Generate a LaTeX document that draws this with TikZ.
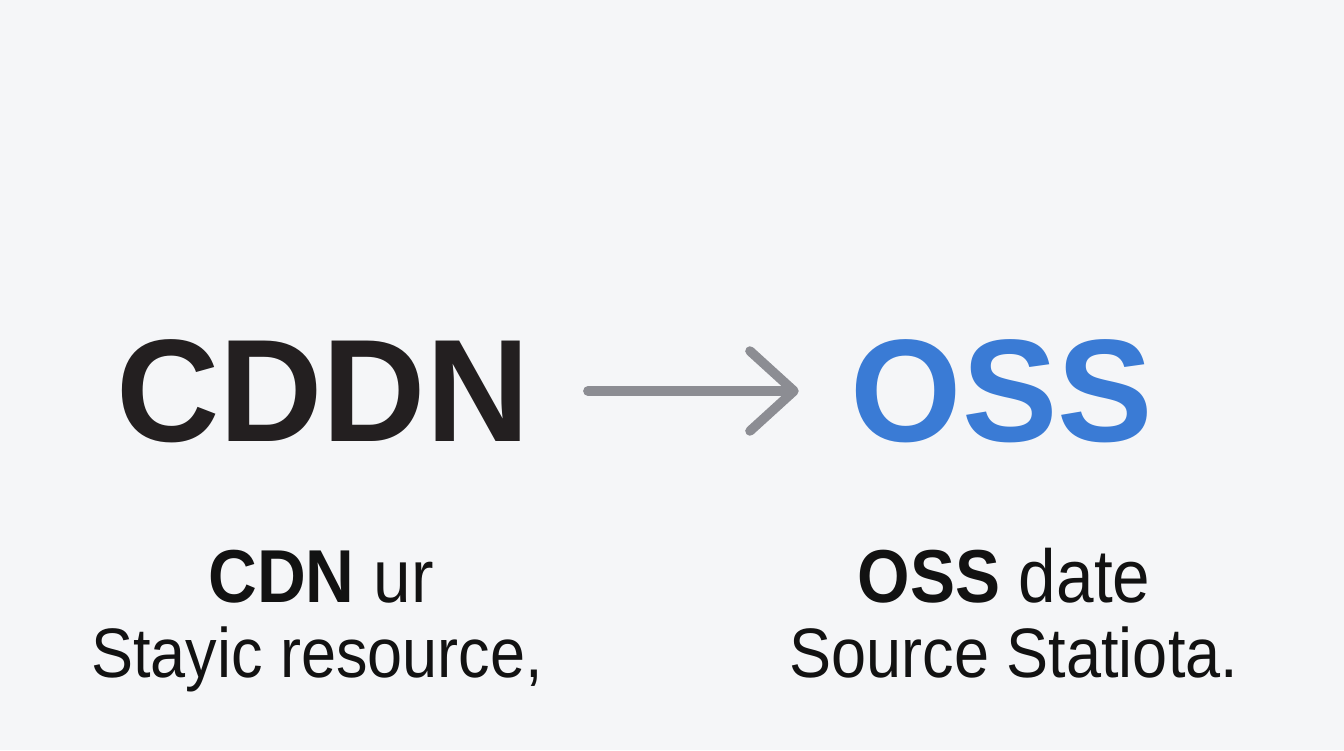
\documentclass[tikz,border=0pt]{standalone}
\usepackage{fontspec}
\usepackage{xcolor}
\usepackage{tikz}
\usetikzlibrary{positioning,arrows.meta}
\setmainfont[FakeStretch=0.98]{Liberation Sans}
\newfontfamily\descfont[FakeStretch=0.9]{Liberation Sans}
\definecolor{bgwhite}{HTML}{F5F6F8}
\definecolor{inkblack}{HTML}{231F20}
\definecolor{ossblue}{HTML}{3A7BD5}
\definecolor{arrowgray}{HTML}{8C8D93}

\begin{document}
\begin{tikzpicture}[x=1pt, y=1pt,
    bigword/.style={inner sep=0pt, font=\fontsize{146}{150}\selectfont\bfseries},
    subtitle/.style={anchor=base, inner sep=0pt, text=black!93, font=\descfont\fontsize{75}{80}\selectfont},
    desc/.style={anchor=base, inner sep=0pt, text=black!93, font=\descfont\fontsize{70}{75}\selectfont}]
    % Background
    \fill[bgwhite] (0,0) rectangle (1344,750);
    \useasboundingbox (0,0) rectangle (1344,750);

    % Big words
    \node[bigword, text=inkblack] (cddn) at (323,359) {CDDN};
    \node[bigword, text=ossblue] (oss) at (1002,359) {OSS};

    % Arrow
    \draw[arrowgray, line width=9.5pt, line cap=round, shorten <=58pt, shorten >=52pt,
        -{Straight Barb[length=44pt, width=80pt, round]}] (cddn.east) -- (oss.west);

    % Captions
    \node[subtitle] (cdntitle) at (321,147) {\textbf{CDN} ur};
    \node[desc] (cdndesc) at (317,73) {Stayic resource,};
    \node[subtitle] (osstitle) at (1004,147) {\textbf{OSS} date};
    \node[desc] (ossdesc) at (1014,73) {Source Statiota.};
\end{tikzpicture}
\end{document}
